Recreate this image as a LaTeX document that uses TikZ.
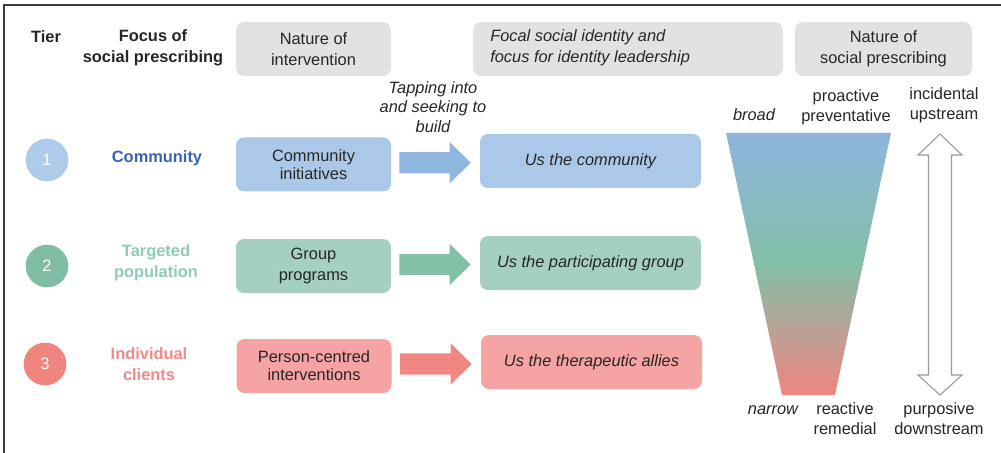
\documentclass[tikz,border=0pt]{standalone}
\usepackage{fontspec}
\setmainfont{Liberation Sans}
\usetikzlibrary{calc}

\definecolor{txt}{HTML}{262626}
\definecolor{hdrgray}{HTML}{E2E2E2}
\definecolor{frameline}{HTML}{3A3A3A}
\definecolor{blueBox}{HTML}{ABC8E8}
\definecolor{blueArrow}{HTML}{8FB6DF}
\definecolor{blueDot}{HTML}{AECBE9}
\definecolor{blueText}{HTML}{3B63B5}
\definecolor{greenBox}{HTML}{A5CFBF}
\definecolor{greenArrow}{HTML}{84BFA8}
\definecolor{greenDot}{HTML}{7FBEA5}
\definecolor{greenText}{HTML}{8DCBB4}
\definecolor{redBox}{HTML}{F5A3A3}
\definecolor{redArrow}{HTML}{F08783}
\definecolor{redDot}{HTML}{F0847F}
\definecolor{redText}{HTML}{F08A86}
\definecolor{funTop}{HTML}{8FB5DF}
\definecolor{funMid}{HTML}{82BFA7}
\definecolor{funBot}{HTML}{F08582}
\definecolor{outlineGray}{HTML}{9A9A9A}

\tikzset{
  base/.style={font=\fontsize{12.3}{15}\selectfont, text=txt, align=center, inner sep=0pt},
  hdr/.style={base, fill=hdrgray, rounded corners=6pt, minimum height=40.5pt},
  leftbox/.style={base, rounded corners=6pt, minimum width=116.25pt, minimum height=40.5pt},
  rightbox/.style={base, rounded corners=6pt, minimum width=165.75pt, minimum height=40.5pt, font=\fontsize{12.3}{15}\selectfont\itshape},
  tierdot/.style={circle, minimum size=32pt, inner sep=0pt, text=white, font=\fontsize{12.3}{15}\selectfont},
  focus/.style={base, font=\fontsize{12.3}{15}\selectfont\bfseries},
  sidelabel/.style={base, font=\fontsize{12.3}{15}\selectfont},
}

% block arrow between two named boxes
\newcommand{\blockarrow}[3]{%
  \fill[#3] let \p1=(#1.east), \p2=(#2.west), \p3=($(#1.east)!.5!(#2.west)$) in
    (\x1+6pt,\y3+7.9pt) -- (\x2-6.75pt-15.75pt,\y3+7.9pt) -- (\x2-6.75pt-15.75pt,\y3+15.4pt)
    -- (\x2-6.75pt,\y3) -- (\x2-6.75pt-15.75pt,\y3-15.4pt) -- (\x2-6.75pt-15.75pt,\y3-7.9pt)
    -- (\x1+6pt,\y3-7.9pt) -- cycle;}

\begin{document}
\begin{tikzpicture}[x=0.75pt, y=-0.75pt]
  \useasboundingbox (0,0) rectangle (1001,453);

  % frame lines (top and left)
  \draw[frameline, line width=1.5pt] (4,453) -- (4,5) -- (1001,5);

  % column headings
  \node[focus] (tier) at (46,37) {Tier};
  \node[focus, font=\fontsize{12.3}{15.5}\selectfont\bfseries] (focus) at (153,48) {Focus of\\social prescribing};
  \node[hdr, minimum width=116.25pt, font=\fontsize{12.3}{15.5}\selectfont] (hnat) at (313.5,49) {Nature of\\intervention};
  \node[hdr, minimum width=232.5pt] (hfocal) at (628,49) {};
  \node[base, anchor=west, align=left, font=\fontsize{12.3}{15.5}\selectfont\itshape] (hfocaltxt) at (490,48)
    {Focal social identity and\\focus for identity leadership};
  \node[hdr, minimum width=132.75pt, font=\fontsize{12.3}{15.5}\selectfont] (hsp) at (883.5,49) {Nature of\\social prescribing};

  \node[base, font=\fontsize{12.3}{14.8}\selectfont\itshape] (tap) at (433,107) {Tapping into\\and seeking to\\build};

  % tier 1
  \node[tierdot, fill=blueDot] (d1) at (47,160) {1};
  \node[focus, text=blueText] (f1) at (157,158) {Community};
  \node[leftbox, fill=blueBox, font=\fontsize{12.3}{13}\selectfont] (l1) at (313.5,164.5) {Community\\initiatives};
  \node[rightbox, fill=blueBox] (r1) at (590.5,161) {Us the community};
  \blockarrow{l1}{r1}{blueArrow}

  % tier 2
  \node[tierdot, fill=greenDot] (d2) at (47,266) {2};
  \node[focus, text=greenText, font=\fontsize{12.3}{15.5}\selectfont\bfseries] (f2) at (156,263) {Targeted\\population};
  \node[leftbox, fill=greenBox, font=\fontsize{12.3}{15.5}\selectfont] (l2) at (313.5,266) {Group\\programs};
  \node[rightbox, fill=greenBox] (r2) at (590.5,263) {Us the participating group};
  \blockarrow{l2}{r2}{greenArrow}

  % tier 3
  \node[tierdot, fill=redDot] (d3) at (45,364) {3};
  \node[focus, text=redText, font=\fontsize{12.3}{15.5}\selectfont\bfseries] (f3) at (149,364) {Individual\\clients};
  \node[leftbox, fill=redBox, font=\fontsize{12.3}{13.5}\selectfont] (l3) at (314,366) {Person-centred\\interventions};
  \node[rightbox, fill=redBox] (r3) at (591.5,362) {Us the therapeutic allies};
  \blockarrow{l3}{r3}{redArrow}

  % funnel from broad to narrow (middle colour must follow top/bottom)
  \shade[top color=funTop, bottom color=funBot, middle color=funMid]
    (726,133) -- (891,133) -- (835,395) -- (782,395) -- cycle;

  % two-headed arrow
  \draw[outlineGray, fill=white, line width=0.8pt, line join=miter]
    (940,134) -- (962,155) -- (951.5,155) -- (951.5,375) -- (962,375) -- (940,395)
    -- (918,375) -- (928.5,375) -- (928.5,155) -- (918,155) -- cycle;

  % scale labels
  \node[sidelabel, font=\fontsize{12.3}{15}\selectfont\itshape] (broad) at (754,115) {broad};
  \node[sidelabel] (pro) at (846,107) {proactive\\preventative};
  \node[sidelabel] (inc) at (944,105) {incidental\\upstream};
  \node[sidelabel, font=\fontsize{12.3}{15}\selectfont\itshape] (narrow) at (773,410) {narrow};
  \node[sidelabel] (rea) at (845,419) {reactive\\remedial};
  \node[sidelabel] (pur) at (939,419) {purposive\\downstream};
\end{tikzpicture}
\end{document}
